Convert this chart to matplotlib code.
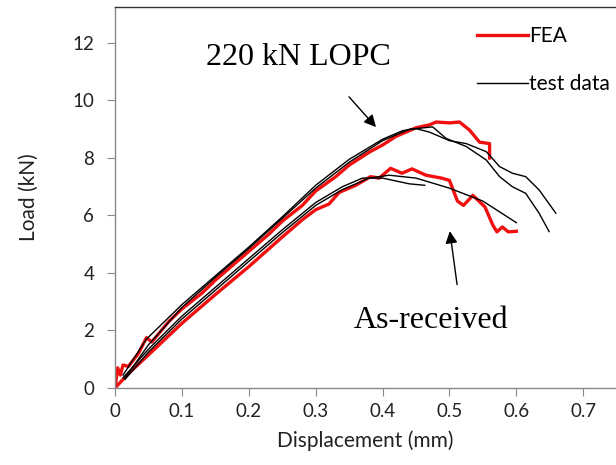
import matplotlib
matplotlib.use("Agg")
import matplotlib.pyplot as plt

# ---- data ----
# 220 kN LOPC
lopc_test1_x = [0.012, 0.047, 0.1, 0.15, 0.2, 0.25, 0.3, 0.35, 0.4, 0.43, 0.45, 0.47, 0.5, 0.525, 0.555, 0.575, 0.594, 0.614, 0.634, 0.659]
lopc_test1_y = [0.45, 1.7, 2.9, 3.9, 4.9, 5.95, 7.05, 7.95, 8.65, 8.95, 9.02, 8.9, 8.6, 8.5, 8.22, 7.7, 7.47, 7.35, 6.89, 6.08]
lopc_test2_x = [0.015, 0.05, 0.1, 0.15, 0.2, 0.25, 0.3, 0.35, 0.4, 0.44, 0.475, 0.495, 0.525, 0.555, 0.575, 0.594, 0.614, 0.634, 0.649]
lopc_test2_y = [0.35, 1.5, 2.8, 3.85, 4.85, 5.9, 6.95, 7.85, 8.6, 9.0, 9.08, 8.68, 8.4, 7.93, 7.35, 7.0, 6.77, 6.08, 5.44]
lopc_fea_x = [0, 0.004, 0.008, 0.012, 0.02, 0.035, 0.047, 0.055, 0.08, 0.1, 0.13, 0.15, 0.18, 0.2, 0.23, 0.25, 0.28, 0.3, 0.33, 0.35, 0.38, 0.4, 0.42, 0.45, 0.47, 0.48, 0.5, 0.515, 0.53, 0.545, 0.56, 0.56]
lopc_fea_y = [0, 0.7, 0.45, 0.8, 0.75, 1.2, 1.75, 1.6, 2.3, 2.75, 3.3, 3.75, 4.35, 4.75, 5.35, 5.8, 6.35, 6.85, 7.35, 7.75, 8.2, 8.45, 8.75, 9.05, 9.15, 9.25, 9.22, 9.25, 8.97, 8.55, 8.5, 8.0]

# As-received
asr_test1_x = [0.012, 0.05, 0.1, 0.15, 0.2, 0.25, 0.3, 0.34, 0.37, 0.4, 0.42, 0.44, 0.463]
asr_test1_y = [0.35, 1.35, 2.5, 3.5, 4.5, 5.5, 6.45, 7.0, 7.3, 7.3, 7.2, 7.1, 7.05]
asr_test2_x = [0.015, 0.05, 0.1, 0.15, 0.2, 0.25, 0.3, 0.34, 0.38, 0.41, 0.45, 0.5, 0.55, 0.6]
asr_test2_y = [0.3, 1.25, 2.4, 3.4, 4.4, 5.4, 6.35, 6.9, 7.3, 7.4, 7.3, 6.95, 6.5, 5.75]
asr_fea_x = [0, 0.02, 0.05, 0.1, 0.15, 0.2, 0.25, 0.28, 0.3, 0.32, 0.335, 0.36, 0.382, 0.395, 0.412, 0.429, 0.444, 0.465, 0.488, 0.5, 0.512, 0.521, 0.535, 0.553, 0.565, 0.571, 0.579, 0.588, 0.6]
asr_fea_y = [0, 0.5, 1.15, 2.25, 3.25, 4.22, 5.25, 5.85, 6.2, 6.4, 6.8, 7.05, 7.35, 7.3, 7.64, 7.47, 7.62, 7.4, 7.3, 7.22, 6.5, 6.35, 6.7, 6.3, 5.66, 5.43, 5.6, 5.43, 5.45]

x_ticks = [0, 0.1, 0.2, 0.3, 0.4, 0.5, 0.6, 0.7]
x_tick_labels = ["0", "0.1", "0.2", "0.3", "0.4", "0.5", "0.6", "0.7"]
y_ticks = [0, 2, 4, 6, 8, 10, 12]

# ---- figure ----
fig = plt.figure(figsize=(6.16, 4.65), dpi=100)
ax = fig.add_axes([115 / 616, 1 - 388 / 465, 1 - 115 / 616, (388 - 7) / 465])

red = "#f01010"
ax.plot(lopc_fea_x, lopc_fea_y, color=red, lw=2.4, label="FEA", zorder=2)
ax.plot(asr_fea_x, asr_fea_y, color=red, lw=2.4, zorder=2)
ax.plot(lopc_test1_x, lopc_test1_y, color="black", lw=1.0, label="test data", zorder=3)
ax.plot(lopc_test2_x, lopc_test2_y, color="black", lw=1.0, zorder=3)
ax.plot(asr_test1_x, asr_test1_y, color="black", lw=1.0, zorder=3)
ax.plot(asr_test2_x, asr_test2_y, color="black", lw=1.0, zorder=3)

ax.set_xlim(0, 0.749)
ax.set_ylim(0, 13.25)
ax.set_xticks(x_ticks)
ax.set_xticklabels(x_tick_labels)
ax.set_yticks(y_ticks)

tick_font = "Lato"
for lab in ax.get_xticklabels() + ax.get_yticklabels():
    lab.set_fontfamily(tick_font)
    lab.set_fontsize(13.5)
    lab.set_color("#222222")

ax.spines["right"].set_visible(False)
for s in ["left", "bottom"]:
    ax.spines[s].set_color("#888888")
    ax.spines[s].set_linewidth(1.0)
ax.spines["top"].set_color("#333333")
ax.spines["top"].set_linewidth(1.0)
ax.tick_params(axis="both", direction="out", length=6, color="#888888")
ax.tick_params(axis="x", pad=5)
ax.tick_params(axis="y", pad=9)

ax.set_xlabel("Displacement (mm)", fontfamily=tick_font, fontsize=15, labelpad=7, color="#222222")
ax.set_ylabel("Load (kN)", fontfamily=tick_font, fontsize=15, labelpad=24, color="#222222")

leg = ax.legend(loc="upper right", bbox_to_anchor=(1.005, 0.972), frameon=False,
                prop={"family": tick_font, "size": 15}, handlelength=2.45,
                handletextpad=0.08, labelspacing=1.35, borderaxespad=0)

ax.text(0.274, 11.5, "220 kN LOPC", fontfamily="Liberation Serif", fontsize=23, ha="center", va="center")
ax.text(0.473, 2.35, "As-received", fontfamily="Liberation Serif", fontsize=23, ha="center", va="center")

ax.annotate("", xy=(0.393, 9.0), xytext=(0.347, 10.2),
            arrowprops=dict(arrowstyle="-|>", color="black", lw=1.0, mutation_scale=18))
ax.annotate("", xy=(0.5, 5.55), xytext=(0.512, 3.5),
            arrowprops=dict(arrowstyle="-|>", color="black", lw=1.0, mutation_scale=18))

fig.savefig("out.png", dpi=100)
